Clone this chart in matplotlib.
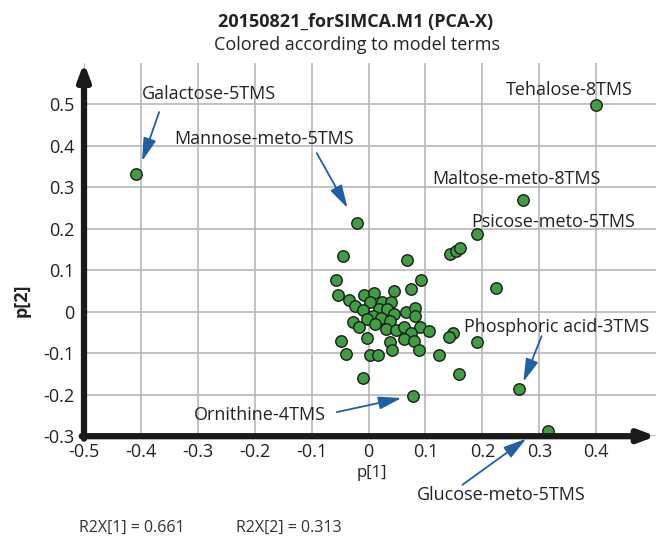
import matplotlib
matplotlib.use("Agg")
import matplotlib.pyplot as plt

plt.rcParams['font.family'] = ['Open Sans', 'DejaVu Sans']

# ---- data (loadings p[1], p[2]) ----
p1 = [0.191, 0.143, 0.153, 0.161, -0.045, 0.067, -0.058, 0.092, 0.224, -0.054,
      -0.008, 0.009, 0.045, 0.075, -0.035, 0.002, 0.023, 0.039, -0.023, -0.009,
      0.018, 0.033, 0.044, 0.065, 0.081, 0.081, 0.007, 0.021, -0.003, -0.027,
      0.038, 0.012, -0.016, 0.030, 0.049, 0.062, 0.090, 0.106, 0.075, 0.148,
      0.141, -0.002, 0.062, 0.080, 0.038, -0.049, 0.190, -0.040, 0.002, 0.017,
      0.041, 0.088, 0.123, -0.009, 0.158, 0.078, -0.409, -0.021, 0.400, 0.271,
      0.264, 0.315]
p2 = [0.187, 0.138, 0.147, 0.153, 0.134, 0.125, 0.076, 0.076, 0.057, 0.041,
      0.041, 0.046, 0.050, 0.055, 0.027, 0.023, 0.024, 0.023, 0.013, 0.004,
      0.007, 0.006, -0.005, -0.001, 0.009, -0.010, -0.010, -0.016, -0.018, -0.025,
      -0.023, -0.030, -0.038, -0.042, -0.044, -0.037, -0.037, -0.046, -0.051, -0.051,
      -0.062, -0.063, -0.066, -0.071, -0.074, -0.071, -0.072, -0.102, -0.105, -0.105,
      -0.093, -0.093, -0.104, -0.159, -0.151, -0.203, 0.332, 0.214, 0.498, 0.269,
      -0.187, -0.287]

xticks = [-0.5, -0.4, -0.3, -0.2, -0.1, 0, 0.1, 0.2, 0.3, 0.4]
xticklabels = ['-0.5', '-0.4', '-0.3', '-0.2', '-0.1', '0', '0.1', '0.2', '0.3', '0.4']
yticks = [-0.3, -0.2, -0.1, 0, 0.1, 0.2, 0.3, 0.4, 0.5]
yticklabels = ['-0.3', '-0.2', '-0.1', '0', '0.1', '0.2', '0.3', '0.4', '0.5']

# labels: (text, text x, text y, arrow start, arrow end or None)
annotations = [
    ("Galactose-5TMS", -0.398, 0.525, (-0.368, 0.481), (-0.398, 0.363)),
    ("Mannose-meto-5TMS", -0.342, 0.416, (-0.091, 0.382), (-0.037, 0.250)),
    ("Tehalose-8TMS", 0.242, 0.534, None, None),
    ("Maltose-meto-8TMS", 0.112, 0.320, None, None),
    ("Psicose-meto-5TMS", 0.181, 0.216, None, None),
    ("Phosphoric acid-3TMS", 0.168, -0.037, (0.304, -0.059), (0.272, -0.169)),
    ("Ornithine-4TMS", -0.307, -0.249, (-0.056, -0.242), (0.058, -0.208)),
    ("Glucose-meto-5TMS", 0.084, -0.442, (0.165, -0.417), (0.277, -0.306)),
]

W, H = 657, 537
fig = plt.figure(figsize=(W / 100, H / 100), dpi=100)
ax = fig.add_axes([84 / W, (H - 436.2) / H, 572 / W, (436.2 - 62.7) / H])
xmin, xmax, ymin, ymax = -0.5, 0.505, -0.3, 0.6
ax.set_xlim(xmin, xmax)
ax.set_ylim(ymin, ymax)
for s in ax.spines.values():
    s.set_visible(False)

ax.set_xticks(xticks)
ax.set_xticklabels(xticklabels)
ax.set_yticks(yticks)
ax.set_yticklabels(yticklabels)
ax.tick_params(length=0, labelsize=13, colors='#222222')
ax.tick_params(axis='x', pad=5)
ax.tick_params(axis='y', pad=7)
ax.grid(True, color='#b8b8b8', lw=1.2)
ax.set_axisbelow(True)

ax.scatter(p1, p2, s=68, c='#3f9e41', edgecolors='#1c1c1c', linewidths=1.0, zorder=3)

# axes with arrows
ax.annotate('', xy=(xmax, ymin), xytext=(xmin - 0.004, ymin),
            arrowprops=dict(arrowstyle='-|>,head_length=0.8,head_width=0.3', lw=4.5,
                            color='#1a1a1a', mutation_scale=12, shrinkA=0, shrinkB=0),
            annotation_clip=False, zorder=5)
ax.annotate('', xy=(xmin, ymax), xytext=(xmin, ymin - 0.006),
            arrowprops=dict(arrowstyle='-|>,head_length=0.8,head_width=0.3', lw=4.5,
                            color='#1a1a1a', mutation_scale=12, shrinkA=0, shrinkB=0),
            annotation_clip=False, zorder=5)

for txt, tx, ty, a0, a1 in annotations:
    ax.text(tx, ty, txt, ha='left', va='center', fontsize=13, color='#222222', zorder=4)
    if a0 is not None:
        ax.annotate('', xy=a1, xytext=a0,
                    arrowprops=dict(arrowstyle='-|>,head_length=1.0,head_width=0.28',
                                    lw=1.3, color='#1f5fa3', mutation_scale=14,
                                    shrinkA=0, shrinkB=0),
                    annotation_clip=False, zorder=4)

fig.text(356 / W, 1 - 22 / H, "20150821_forSIMCA.M1 (PCA-X)", ha='center', va='center',
         fontsize=13, fontweight='bold', color='#222222')
fig.text(357 / W, 1 - 45 / H, "Colored according to model terms", ha='center', va='center',
         fontsize=13, color='#222222')
fig.text(372 / W, 1 - 473 / H, "p[1]", ha='center', va='center', fontsize=12, color='#222222')
fig.text(22 / W, 1 - 300 / H, "p[2]", ha='center', va='center', rotation=90,
         fontsize=13, fontweight='bold', color='#222222')
fig.text(79 / W, 1 - 528 / H, "R2X[1] = 0.661", ha='left', va='center', fontsize=11.5, color='#333333')
fig.text(236 / W, 1 - 528 / H, "R2X[2] = 0.313", ha='left', va='center', fontsize=11.5, color='#333333')

fig.savefig('out.png', dpi=100)
